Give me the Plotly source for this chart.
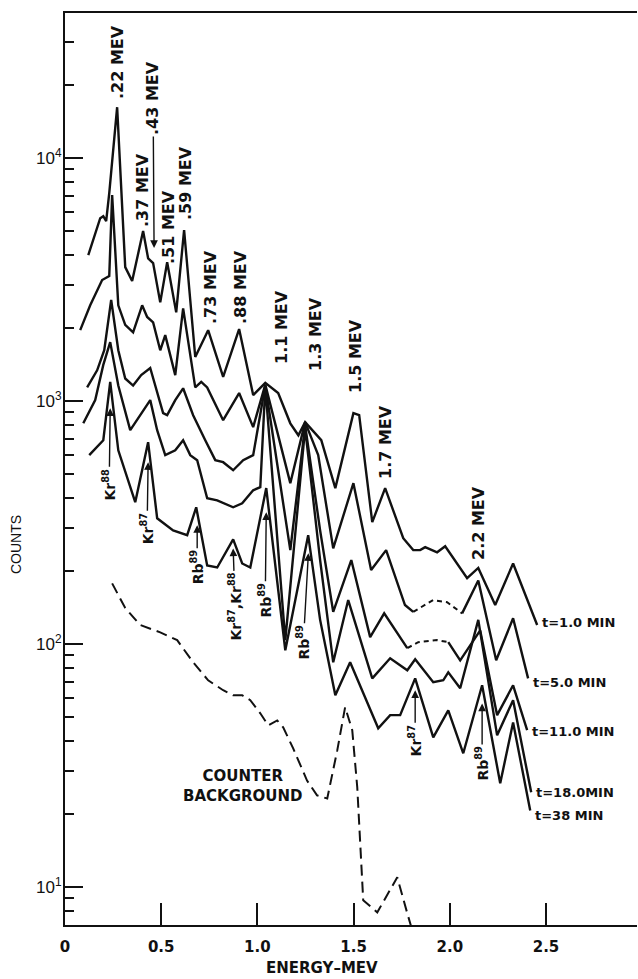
import math
import plotly.graph_objects as go

# Gamma-ray pulse-height spectra of fission gases at several delay times
# energy in MeV, counts per channel

e_1min = [0.121, 0.147, 0.183, 0.199, 0.214, 0.230, 0.271, 0.313, 0.349, 0.406, 0.432, 0.458,
          0.495, 0.531, 0.578, 0.619, 0.677, 0.744, 0.822, 0.905, 0.978, 1.041, 1.108, 1.171,
          1.213, 1.248, 1.332, 1.405, 1.499, 1.529, 1.597, 1.664, 1.758, 1.810, 1.846, 1.872,
          1.934, 1.976, 2.090, 2.148, 2.236, 2.329, 2.454]
c_1min = [3990, 4600, 5660, 5770, 5510, 7180, 16200, 3560, 3120, 5010, 3870, 3700,
          2550, 3730, 2320, 5060, 1520, 1960, 1260, 1980, 1060, 1190, 1080, 811,
          724, 820, 691, 439, 893, 876, 318, 439, 273, 244, 244, 251,
          239, 253, 187, 206, 145, 215, 120]

e_5min = [0.079, 0.131, 0.193, 0.230, 0.245, 0.277, 0.313, 0.354, 0.401, 0.427, 0.458, 0.495,
          0.521, 0.573, 0.614, 0.677, 0.708, 0.739, 0.822, 0.905, 0.978, 1.041, 1.171, 1.248,
          1.316, 1.394, 1.499, 1.591, 1.669, 1.767, 1.810, 1.914, 1.986, 2.064, 2.148, 2.241,
          2.329, 2.407]
c_5min = [1960, 2480, 3150, 3270, 7050, 2480, 2060, 1920, 2480, 2220, 2110, 1620,
          1870, 1280, 2410, 1140, 1200, 1140, 835, 1080, 782, 1170, 460, 820,
          600, 248, 460, 202, 244, 145, 136, 152, 149, 134, 183, 85.9,
          128, 72.4]

e_11min = [0.115, 0.167, 0.204, 0.240, 0.277, 0.313, 0.354, 0.396, 0.443, 0.479, 0.510, 0.531,
           0.573, 0.614, 0.666, 0.729, 0.781, 0.822, 0.874, 0.926, 0.978, 1.041, 1.171, 1.248,
           1.326, 1.394, 1.488, 1.586, 1.659, 1.779, 1.836, 1.934, 1.992, 2.054, 2.158, 2.246,
           2.329, 2.402]
c_11min = [1140, 1340, 1620, 2610, 1620, 1240, 1160, 1280, 1370, 1080, 893, 876,
           1010, 1130, 876, 691, 572, 561, 520, 572, 600, 1160, 244, 796,
           294, 136, 222, 107, 134, 96.4, 102, 104, 102, 85.9, 114, 51.1,
           67.8, 44.3]

e_18min = [0.095, 0.157, 0.199, 0.235, 0.277, 0.339, 0.391, 0.443, 0.479, 0.521, 0.573, 0.614,
           0.651, 0.687, 0.739, 0.791, 0.874, 0.921, 0.978, 1.015, 1.041, 1.145, 1.248, 1.326,
           1.394, 1.472, 1.597, 1.690, 1.779, 1.820, 1.914, 1.966, 1.992, 2.054, 2.148, 2.246,
           2.329, 2.423]
c_18min = [811, 1010, 1410, 1750, 1160, 760, 876, 1010, 760, 600, 628, 691,
           600, 572, 399, 391, 366, 380, 430, 443, 1150, 104, 774, 222,
           84.3, 152, 72.4, 87.6, 78.2, 86.8, 69.8, 71.1, 76.7, 65.9, 126, 42.2,
           58.9, 24.6]

e_38min = [0.126, 0.199, 0.235, 0.277, 0.365, 0.432, 0.479, 0.562, 0.635, 0.682, 0.739, 0.791,
           0.874, 0.921, 0.963, 1.046, 1.145, 1.264, 1.326, 1.405, 1.482, 1.628, 1.690, 1.742,
           1.820, 1.914, 1.992, 2.070, 2.168, 2.262, 2.329, 2.418]
c_38min = [600, 691, 1200, 628, 384, 678, 330, 294, 281, 366, 211, 207,
           270, 215, 207, 439, 94.5, 281, 126, 61.7, 84.3, 45.1, 51.1, 51.1,
           72.4, 41.4, 53.5, 35.6, 67.8, 26.8, 47.7, 20.7]

e_background = [0.245, 0.313, 0.391, 0.495, 0.583, 0.666, 0.744, 0.822, 0.874, 0.921, 0.963, 1.015,
                1.056, 1.103, 1.134, 1.186, 1.258, 1.310, 1.363, 1.415, 1.456, 1.493, 1.519, 1.550,
                1.623, 1.727, 1.779, 1.805]
c_background = [178, 141, 120, 112, 104, 84.3, 71.1, 64.7, 61.7, 61.7, 58.9, 52.0,
                46.4, 48.6, 45.5, 37.3, 27.5, 23.9, 23.2, 36.6, 55.1, 44.3, 25.8, 8.85,
                7.89, 11.0, 7.82, 6.65]

# energy spans where a spectrum was sketched as a dashed interpolation
dashed_5min = (1.810, 2.064)
dashed_11min = (1.779, 1.992)

series_names = ["t=1.0 MIN", "t=5.0 MIN", "t=11.0 MIN", "t=18.0MIN", "t=38 MIN"]

x_tickvals = [0, 0.5, 1.0, 1.5, 2.0, 2.5]
x_ticktext = ["0", "0.5", "1.0", "1.5", "2.0", "2.5"]
y_tickvals = [10, 100, 1000, 10000]
y_ticktext = ["10<sup>1</sup>", "10<sup>2</sup>", "10<sup>3</sup>", "10<sup>4</sup>"]
y_minorvals = [8, 9] + [m * d for d in (10, 100, 1000) for m in range(2, 10)] + [20000, 30000]

peak_labels = [".22 MEV", ".37 MEV", ".51 MEV", ".59 MEV", ".73 MEV", ".88 MEV",
               "1.1 MEV", "1.3 MEV", "1.5 MEV", "1.7 MEV", "2.2 MEV"]

# ---------------------------------------------------------------- layout geometry
W, H = 638, 979
ML, MR, MT, MB = 65, 1, 13, 54
INK = "#111111"
PLAIN = "Liberation Sans, Arial, sans-serif"
LETTER = "DejaVu Sans, Verdana, sans-serif"


def px(x):
    return (x - ML) / (W - ML - MR)


def py(y):
    return (H - MB - y) / (H - MT - MB)


fig = go.Figure()


def add_line(xs, ys, dash="solid", width=2.4):
    fig.add_trace(go.Scatter(x=xs, y=ys, mode="lines",
                             line=dict(color=INK, width=width, dash=dash),
                             hoverinfo="skip", showlegend=False))


def add_spectrum(es, cs, dashed=None):
    if dashed is None:
        add_line(es, cs)
        return
    lo, hi = dashed
    i0 = max(i for i, e in enumerate(es) if e <= lo + 1e-9)
    i1 = min(i for i, e in enumerate(es) if e >= hi - 1e-9)
    add_line(es[:i0 + 1], cs[:i0 + 1])
    add_line(es[i0:i1 + 1], cs[i0:i1 + 1], dash="5px,4px", width=2.0)
    add_line(es[i1:], cs[i1:])


add_spectrum(e_1min, c_1min)
add_spectrum(e_5min, c_5min, dashed_5min)
add_spectrum(e_11min, c_11min, dashed_11min)
add_spectrum(e_18min, c_18min)
add_spectrum(e_38min, c_38min)
add_line(e_background, c_background, dash="11px,6px", width=2.0)

annotations = []


def bold_font(size):
    return dict(family=LETTER, size=size, color=INK, weight="bold")


def text(x, y, s, size=16, angle=0, bold=True):
    f = bold_font(size) if bold else dict(family=PLAIN, size=size, color=INK)
    annotations.append(dict(xref="paper", yref="paper", x=px(x), y=py(y),
                            text=s, showarrow=False, textangle=angle,
                            xanchor="center", yanchor="middle", font=f))


# peak energy labels (rotated, reading upward)
peak_label_xy = [(118, 62), (143, 190), (168, 227), (186, 183), (210, 287), (240, 287),
                 (281, 327), (315, 334), (355, 356), (385, 442), (478, 523)]
for s, (x, y) in zip(peak_labels, peak_label_xy):
    text(x, y, s, size=16, angle=-90)


def arrow_label(e_tip, c_tip, s, ax, ay, size=15):
    annotations.append(dict(xref="x", yref="y", x=e_tip, y=math.log10(c_tip),
                            text=s, showarrow=True, arrowhead=2,
                            arrowsize=1.1, arrowwidth=1.4, arrowcolor=INK,
                            ax=ax, ay=ay, textangle=-90, font=bold_font(size)))


arrow_label(0.463, 4270, ".43 MEV", -1, -150, size=16)
arrow_label(0.235, 935, "Kr<sup>88</sup>", -1, 76, size=14)
arrow_label(0.432, 561, "Kr<sup>87</sup>", -1, 66, size=14)
arrow_label(0.687, 309, "Rb<sup>89</sup>", 0, 42, size=14)
arrow_label(0.874, 248, "Kr<sup>87</sup>,Kr<sup>88</sup>", 2, 58, size=14)
arrow_label(1.046, 349, "Rb<sup>89</sup>", -1, 88, size=14)
arrow_label(1.265, 237, "Rb<sup>89</sup>", -5, 89, size=14)
arrow_label(1.820, 64.7, "Kr<sup>87</sup>", 0, 50, size=14)
arrow_label(2.168, 57.1, "Rb<sup>89</sup>", 0, 60, size=14)

# delay-time labels at the right-hand end of each spectrum
for name, es, cs, dy in zip(series_names,
                            [e_1min, e_5min, e_11min, e_18min, e_38min],
                            [c_1min, c_5min, c_11min, c_18min, c_38min],
                            [3, -4, -1, 0, -5]):
    annotations.append(dict(xref="x", yref="y", x=es[-1], y=math.log10(cs[-1]),
                            text=name, showarrow=False,
                            xanchor="left", yanchor="middle", xshift=3, yshift=dy,
                            font=bold_font(13)))

text(242, 786, "COUNTER<br>BACKGROUND", size=15)
text(16, 545, "COUNTS", size=14, angle=-90, bold=False)
text(322, 968, "ENERGY\u2013MEV", size=15)

fig.update_layout(
    width=W, height=H,
    margin=dict(l=ML, r=MR, t=MT, b=MB),
    paper_bgcolor="white", plot_bgcolor="white",
    showlegend=False,
    annotations=annotations,
    font=dict(family=PLAIN, color=INK),
    xaxis=dict(range=[0, (W - ML - MR) / 192.4], showgrid=False, zeroline=False,
               showline=True, linecolor=INK, linewidth=2, mirror=True,
               ticks="inside", ticklen=22, tickwidth=2, tickcolor=INK,
               tickvals=x_tickvals, ticktext=x_ticktext, ticklabelstandoff=7,
               tickfont=bold_font(15), automargin=False),
    yaxis=dict(type="log", range=[math.log10(7.0), 4.597], showgrid=False, zeroline=False,
               showline=True, linecolor=INK, linewidth=2,
               ticks="inside", ticklen=18, tickwidth=2, tickcolor=INK,
               tickvals=y_tickvals, ticktext=y_ticktext, ticklabelstandoff=-2,
               tickfont=dict(family=PLAIN, size=17, color=INK), automargin=False,
               minor=dict(tickvals=y_minorvals, ticks="inside", ticklen=9,
                          tickwidth=2, tickcolor=INK, showgrid=False)),
)

fig.write_html("out.html")
